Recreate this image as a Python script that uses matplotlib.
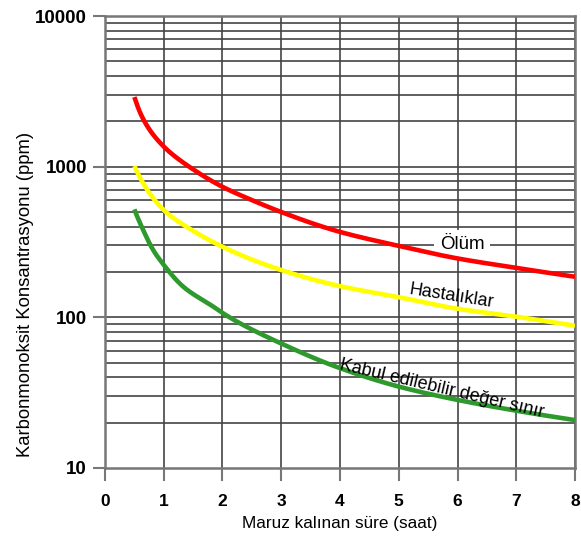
import matplotlib
matplotlib.use("Agg")
import matplotlib.pyplot as plt
import numpy as np

hours_olum = [0.5, 0.6, 0.75, 1, 1.5, 2, 2.5, 3, 4, 5, 6, 7, 8]
olum = [2900, 2275, 1780, 1360, 960, 735, 600, 500, 369, 298, 246, 213, 186]
hours_hast = [0.5, 0.65, 1, 1.5, 2, 3, 4, 5, 6, 7, 8]
hastalik = [1010, 776, 516, 375, 294, 206, 161, 136, 114, 101, 88]
hours_kabul = [0.5, 0.65, 0.82, 1, 1.33, 1.84, 2, 3, 4, 5, 6, 7, 8]
kabul = [521, 380, 280, 223, 160, 118, 107, 67, 46, 34.7, 28.3, 24, 20.8]

xticks = [0, 1, 2, 3, 4, 5, 6, 7, 8]
yticks = [10, 100, 1000, 10000]
ytick_labels = ["10", "100", "1000", "10000"]

plt.rcParams['font.family'] = ['Liberation Sans', 'DejaVu Sans']

fig = plt.figure(figsize=(5.81, 5.45), dpi=100)
ax = fig.add_axes([0.1807, 0.1413, 0.809, 0.8293])
ax.set_yscale('log')
ax.set_xlim(0, 8)
ax.set_ylim(10, 10000)

# grid
for d in [10, 100, 1000]:
    for m in range(1, 10):
        v = d * m
        if v > 10:
            ax.axhline(v, color='#444444', lw=1.2, zorder=1)
for xv in xticks:
    ax.axvline(xv, color='#444444', lw=1.2, zorder=1)

def smooth(xs, ys, n=300):
    # monotone cubic (Fritsch-Carlson) through the read points, in log-log space
    lx = np.log10(np.asarray(xs, float))
    ly = np.log10(np.asarray(ys, float))
    h = np.diff(lx); delta = np.diff(ly) / h
    m = np.zeros_like(ly)
    m[0] = delta[0]; m[-1] = delta[-1]
    for i in range(1, len(lx) - 1):
        if delta[i-1] * delta[i] <= 0:
            m[i] = 0
        else:
            w1 = 2*h[i] + h[i-1]; w2 = h[i] + 2*h[i-1]
            m[i] = (w1 + w2) / (w1/delta[i-1] + w2/delta[i])
    xx = np.linspace(lx[0], lx[-1], n)
    yy = np.empty_like(xx)
    for j, x in enumerate(xx):
        i = min(np.searchsorted(lx, x, side='right') - 1, len(lx) - 2)
        t = (x - lx[i]) / h[i]
        h00 = 2*t**3 - 3*t**2 + 1; h10 = t**3 - 2*t**2 + t
        h01 = -2*t**3 + 3*t**2; h11 = t**3 - t**2
        yy[j] = h00*ly[i] + h10*h[i]*m[i] + h01*ly[i+1] + h11*h[i]*m[i+1]
    return 10**xx, 10**yy

for xs, ys, c in [(hours_olum, olum, '#ff0000'), (hours_hast, hastalik, '#ffff00'),
                  (hours_kabul, kabul, '#2e9a2e')]:
    xx, yy = smooth(xs, ys)
    ax.plot(xx, yy, color=c, lw=3.3, zorder=3, solid_capstyle='butt')

ax.text(6.08, 305, "Ölüm", fontsize=13.5, ha='center', va='center', zorder=2,
        bbox=dict(facecolor='white', edgecolor='none', pad=4))
ax.text(5.9, 138, "Hastalıklar", fontsize=13, ha='center', va='center', rotation=-9,
        rotation_mode='anchor', zorder=4)
ax.text(5.73, 33.5, "Kabul edilebilir değer sınır", fontsize=13, ha='center', va='center',
        rotation=-13.3, rotation_mode='anchor', zorder=4)

ax.set_xticks(xticks)
ax.set_xticklabels([str(v) for v in xticks], fontsize=12.5, fontweight='bold')
ax.set_yticks(yticks)
ax.set_yticklabels(ytick_labels, fontsize=13.5, fontweight='bold')
ax.yaxis.set_minor_locator(matplotlib.ticker.NullLocator())
ax.tick_params(axis='y', length=9, width=1.5, color='#777777', pad=4)
ax.tick_params(axis='x', length=9, width=1.5, color='#777777', pad=10)
for s in ax.spines.values():
    s.set_color('#777777'); s.set_linewidth(1.8)

ax.set_xlabel("Maruz kalınan süre (saat)", fontsize=12.3, labelpad=5)
ax.set_ylabel("Karbonmonoksit Konsantrasyonu (ppm)", fontsize=13.3, labelpad=7)
ax.yaxis.set_label_coords(-0.152, 0.385)

fig.savefig("out.png", dpi=100)
